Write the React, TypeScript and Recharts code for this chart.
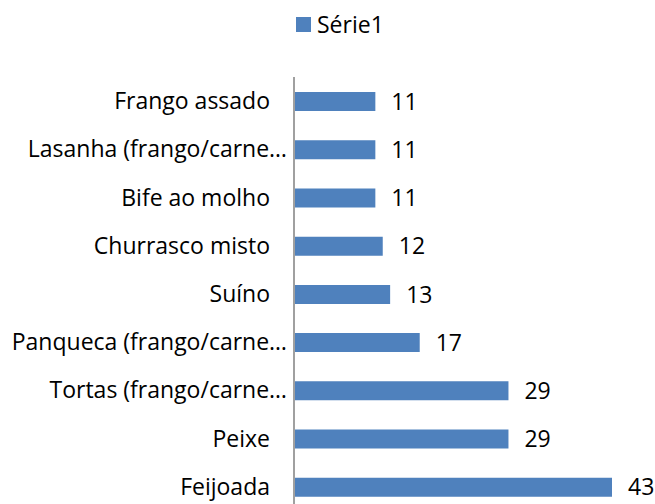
import React from "react";
import { BarChart, Bar, XAxis, YAxis, LabelList } from "recharts";

const categories = [
  "Frango assado",
  "Lasanha (frango/carne…",
  "Bife ao molho",
  "Churrasco misto",
  "Suíno",
  "Panqueca (frango/carne…",
  "Tortas (frango/carne…",
  "Peixe",
  "Feijoada",
];
const serie1 = [11, 11, 11, 12, 13, 17, 29, 29, 43];
const seriesName = "Série1";

const data = categories.map((name, i) => ({ name, value: serie1[i] }));

const FONT = "'Open Sans', sans-serif";
const FONT_SIZE = 23;
const BLUE = "#4f81bd";

const CategoryTick = (props: any) => {
  const { x, y, payload } = props;
  const label: string = payload.value;
  const truncated = label.endsWith("…");
  return (
    <text
      x={truncated ? x + 1 : x - 16}
      y={y}
      dy={8}
      textAnchor="end"
      fill="#000"
      fontSize={FONT_SIZE}
      fontFamily={FONT}
    >
      {label}
    </text>
  );
};

const App: React.FC = () => {
  return (
    <div
      style={{
        position: "fixed",
        top: 0,
        left: 0,
        width: 655,
        height: 504,
        overflow: "hidden",
        background: "#fff",
        fontFamily: FONT,
      }}
    >
      <div
        style={{
          position: "absolute",
          top: 8,
          left: 296,
          display: "flex",
          alignItems: "center",
          fontSize: FONT_SIZE,
          color: "#000",
        }}
      >
        <span style={{ width: 15, height: 15, background: BLUE, display: "inline-block", marginRight: 6 }} />
        <span>{seriesName}</span>
      </div>
      <BarChart
        width={655}
        height={520}
        data={data}
        layout="vertical"
        margin={{ top: 77, right: 43, bottom: 9, left: 0 }}
        barCategoryGap={0}
      >
        <XAxis type="number" domain={[0, 43]} hide />
        <YAxis
          type="category"
          dataKey="name"
          width={294}
          axisLine={{ stroke: "#a0a0a0", strokeWidth: 2 }}
          tickLine={false}
          tick={<CategoryTick />}
          interval={0}
        />
        <Bar dataKey="value" fill={BLUE} barSize={19} isAnimationActive={false}>
          <LabelList
            dataKey="value"
            position="right"
            offset={16}
            fill="#000"
            fontSize={FONT_SIZE}
            fontFamily={FONT}
          />
        </Bar>
      </BarChart>
    </div>
  );
};

export default App;
